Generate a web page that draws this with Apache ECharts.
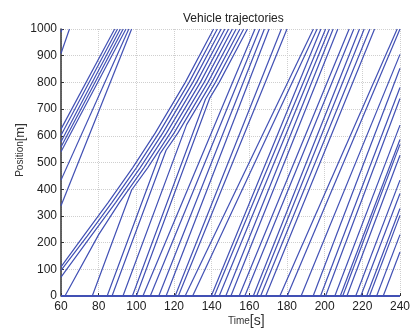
<!DOCTYPE html>
<html><head><meta charset="utf-8">
<script src="https://cdn.jsdelivr.net/npm/echarts@6/dist/echarts.min.js"></script>
<style>html,body{margin:0;padding:0;background:#fff}#c{width:413px;height:329px}</style>
</head><body><div id="c"></div>
<script>
const xTicks = [60, 80, 100, 120, 140, 160, 180, 200, 220, 240];
const yTicks = [0, 100, 200, 300, 400, 500, 600, 700, 800, 900, 1000];

// vehicles already near the end at t = 60
const groupA = [
  [[60, 988], [60.6, 1000]],
  [[60, 908], [64.5, 1000]]
];
// upper-left platoon
const groupB = [
  [[60, 625], [88.5, 1000]],
  [[60, 602], [90, 1000]],
  [[60, 578], [91.5, 1000]],
  [[60, 558], [93, 1000]],
  [[60, 540], [94.5, 1000]],
  [[60, 434], [96, 1000]],
  [[60, 338], [97.5, 1000]]
];
// slow platoon and vehicles catching up with it
const groupC = [
  [[60, 109], [72, 225], [85, 350], [98, 480], [110, 610], [126, 800], [141, 1000]],
  [[60, 96], [74, 225], [87, 350], [100, 480], [112, 610], [128, 800], [143, 1000]],
  [[60, 71], [76, 225], [89, 350], [102, 480], [114, 610], [130, 800], [145, 1000]],
  [[62.1, 0], [80, 230], [91, 350], [104, 480], [116, 610], [132, 800], [147, 1000]],
  [[76.6, 0], [97.5, 397], [106, 480], [118, 610], [134, 800], [149, 1000]],
  [[84.5, 0], [112.5, 532], [120, 610], [136, 800], [151, 1000]],
  [[87.1, 0], [115.8, 546], [122, 610], [138, 800], [153, 1000]],
  [[92.9, 0], [126.7, 642], [140, 800], [155, 1000]],
  [[97.9, 0], [136.7, 737], [142, 800], [157, 1000]],
  [[100, 0], [138.9, 740], [144, 800], [159, 1000]]
];
// free-flow vehicles leaving at the top
const groupD = [
  [[103.5, 0], [163, 1000]],
  [[107.4, 0], [165.5, 1000]],
  [[111.9, 0], [168, 1000]],
  [[115.8, 0], [170.5, 1000]],
  [[120.6, 0], [177, 1000]],
  [[122.3, 0], [180, 1000]],
  [[125.9, 0], [194, 1000]],
  [[129.9, 0], [196, 1000]],
  [[139.8, 0], [198, 1000]],
  [[141.4, 0], [200.5, 1000]],
  [[144, 0], [202.5, 1000]],
  [[147.5, 0], [204.5, 1000]],
  [[150.2, 0], [207, 1000]],
  [[154.6, 0], [213, 1000]],
  [[157.6, 0], [215.5, 1000]],
  [[162.1, 0], [218.5, 1000]],
  [[163.9, 0], [221, 1000]],
  [[166, 0], [224, 1000]],
  [[168.7, 0], [226.5, 1000]],
  [[176.2, 0], [238.5, 1000]],
  [[180.1, 0], [240, 1000]]
];
// vehicles still on the road at t = 240
const groupE = [
  [[187.5, 0], [240, 905]],
  [[193.9, 0], [240, 853]],
  [[197.8, 0], [240, 781]],
  [[200.5, 0], [240, 740]],
  [[205.4, 0], [240, 640]],
  [[208.3, 0], [240, 586]],
  [[209.6, 0], [240, 568]],
  [[211.8, 0], [240, 527]],
  [[216.5, 0], [240, 434]],
  [[219.2, 0], [240, 384]],
  [[222.3, 0], [240, 328]],
  [[223.8, 0], [240, 302]],
  [[227.6, 0], [240, 230]],
  [[231.1, 0], [240, 165]]
];
const roadStart = [[60, 0], [240, 0]];

const lineColor = '#4150b4';
const all = [].concat(groupA, groupB, groupC, groupD, groupE);
const series = all.map(tr => ({
  type: 'line', data: tr, showSymbol: false, silent: true,
  lineStyle: { color: lineColor, width: 1.2 }, z: 3
}));
series.push({ type: 'line', data: roadStart, showSymbol: false, silent: true,
  lineStyle: { color: lineColor, width: 2.2 }, z: 4 });

const font = 'Liberation Sans, Arial, sans-serif';
const chart = echarts.init(document.getElementById('c'), null, { renderer: 'canvas' });
chart.setOption({
  animation: false,
  backgroundColor: '#fff',
  title: {
    text: 'Vehicle trajectories', left: 178, top: 8,
    textStyle: { fontSize: 12, fontWeight: 'normal', color: '#222', fontFamily: font }
  },
  grid: { left: 61, right: 11, top: 29, bottom: 33, containLabel: false },
  xAxis: {
    type: 'value', min: xTicks[0], max: xTicks[xTicks.length - 1], interval: 20,
    axisLine: { show: false },
    axisTick: { show: true, inside: true, length: 3, lineStyle: { color: '#333' } },
    axisLabel: { margin: 5, fontSize: 12, color: '#222', fontFamily: font,
      formatter: v => String(v) },
    splitLine: { show: true, lineStyle: { color: '#cfcfcf', type: 'dotted', width: 1 } }
  },
  yAxis: {
    type: 'value', min: yTicks[0], max: yTicks[yTicks.length - 1], interval: 100,
    axisLine: { show: true, lineStyle: { color: '#333', width: 1.5 } },
    axisTick: { show: true, inside: true, length: 3, lineStyle: { color: '#333' } },
    axisLabel: { margin: 4, fontSize: 12, color: '#222', fontFamily: font,
      formatter: v => String(v) },
    splitLine: { show: true, lineStyle: { color: '#cfcfcf', type: 'dotted', width: 1 } }
  },
  graphic: [
    { type: 'text', left: 228, top: 314,
      style: { text: '{a|Time}{b|[s]}', rich: {
        a: { fontSize: 10, fill: '#333', fontFamily: font },
        b: { fontSize: 14, fill: '#333', fontFamily: font } } } },
    { type: 'text', x: 20, y: 150, rotation: Math.PI / 2,
      style: { text: '{a|Position}{b|[m]}', align: 'center', verticalAlign: 'middle', rich: {
        a: { fontSize: 10, fill: '#333', fontFamily: font },
        b: { fontSize: 13, fill: '#333', fontFamily: font } } } }
  ],
  series: series
});
</script>
</body></html>
